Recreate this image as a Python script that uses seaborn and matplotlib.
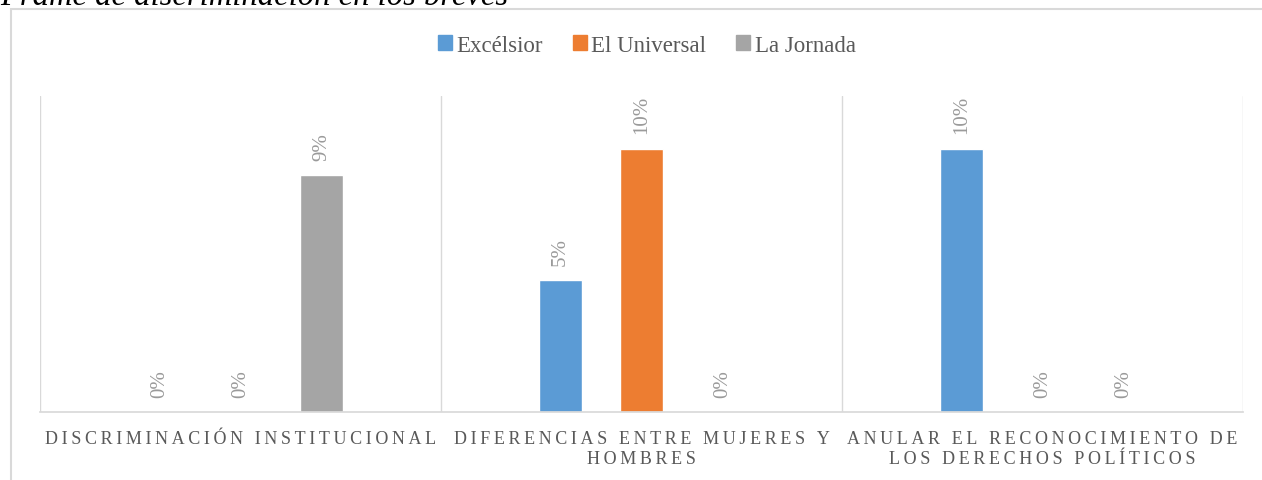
"""Frame de discriminación en los breves."""
import pandas as pd
import matplotlib.pyplot as plt
import matplotlib.patches as mpatches
import seaborn as sns

categorias = ["DISCRIMINACIÓN INSTITUCIONAL",
              "DIFERENCIAS ENTRE MUJERES Y\nHOMBRES",
              "ANULAR EL RECONOCIMIENTO DE\nLOS DERECHOS POLÍTICOS"]
periodicos = ["Excélsior", "El Universal", "La Jornada"]
excelsior = [0.0, 0.05, 0.10]
universal = [0.0, 0.10, 0.0]
jornada = [0.09, 0.0, 0.0]
colores = ["#5B9BD5", "#ED7D31", "#A5A5A5"]

df = pd.DataFrame({
    "categoria": categorias * 3,
    "periodico": [p for p in periodicos for _ in categorias],
    "valor": excelsior + universal + jornada,
})

sns.set_theme(style="white")
plt.rcParams['font.family'] = ['Liberation Serif', 'DejaVu Serif']


def espaciado(texto, sep="\u2009"):
    # imita el espaciado entre letras del original
    return "\n".join(sep.join(linea) for linea in texto.split("\n"))


fig = plt.figure(figsize=(12.62, 4.81), dpi=100)
ax = fig.add_axes([40 / 1262, 1 - 413 / 481, 1203 / 1262, 316 / 481])

sns.barplot(data=df, x="categoria", y="valor", hue="periodico",
            hue_order=periodicos, palette=colores, width=0.606, gap=0.47,
            saturation=1, ax=ax, legend=False)

for cont in ax.containers:
    ax.bar_label(cont, labels=[f"{v:.0%}" for v in cont.datavalues],
                 rotation=90, padding=11, color="#9a9a9a", fontsize=15)

ax.set_ylim(0, 0.12)
ax.set_xlim(-0.5, 2.5)
ax.set_yticks([])
ax.set_xlabel("")
ax.set_ylabel("")
ax.set_xticks(range(len(categorias)))
ax.set_xticklabels([espaciado(c) for c in categorias], linespacing=1.2)
for s in ["top", "right", "left"]:
    ax.spines[s].set_visible(False)
ax.spines["bottom"].set_color("#d9d9d9")
for xv in [-0.5, 0.5, 1.5, 2.5]:
    ax.axvline(xv, color="#d9d9d9", lw=1, zorder=0)
ax.tick_params(axis="x", length=0, pad=13, labelsize=13, labelcolor="#595959")

handles = [mpatches.Patch(color=c, label=p) for c, p in zip(colores, periodicos)]
fig.legend(handles=handles, loc="center", bbox_to_anchor=(647 / 1262, 1 - 46 / 481),
           ncol=3, frameon=False, fontsize=16.5, handlelength=0.6, handleheight=0.6,
           handletextpad=0.2, columnspacing=1.3, labelcolor="#595959")

# marco exterior del gráfico
fig.patches.append(mpatches.Rectangle((10.5 / 1262, -0.1), 1.1, 1.1 - 9.5 / 481,
                                      transform=fig.transFigure, fill=False,
                                      edgecolor="#d9d9d9", lw=1.5))
fig.text(0.0, 1 - 5 / 481, "Frame de discriminación en los breves",
         fontsize=23.5, style="italic", va="baseline", ha="left", color="black")

fig.savefig("out.png", dpi=100)
